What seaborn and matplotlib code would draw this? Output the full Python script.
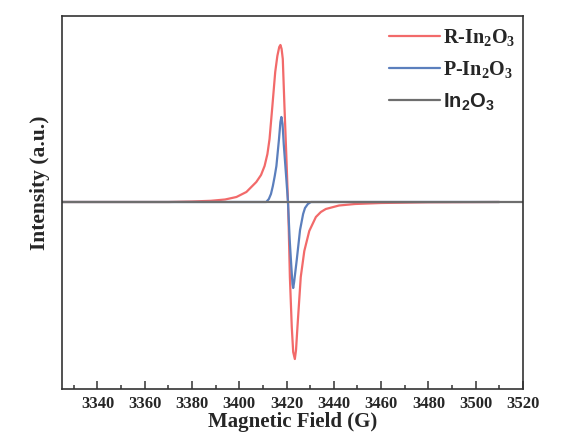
import matplotlib
matplotlib.use("Agg")
import matplotlib.pyplot as plt
import seaborn as sns
from matplotlib.ticker import MultipleLocator

# EPR spectra (field in G, intensity in a.u.)
r_field = [3325, 3370, 3380, 3388, 3394, 3398.8, 3403.0, 3407.2, 3409.2,
           3410.7, 3411.9, 3412.8, 3414.0, 3415.2, 3416.1, 3416.9, 3417.4,
           3417.9, 3418.4, 3419.1, 3419.9, 3420.6, 3420.9, 3421.4, 3422.2,
           3422.8, 3423.5, 3424.0, 3424.6, 3426.0, 3427.5, 3429.6, 3432.4,
           3434.5, 3436.6, 3442.2, 3449, 3460, 3480, 3510]
r_int = [0, 0, 0.5, 1.2, 2.5, 5, 10, 20, 27,
         36, 48, 63, 96, 130, 146, 155, 157,
         153, 143, 96, 46, 0, -25, -75, -125,
         -150, -157, -148, -125, -75, -49, -29, -15,
         -10, -7, -3.5, -2, -1, -0.3, 0]

p_field = [3325, 3411.4, 3412.5, 3413.4, 3414.2, 3415.0, 3415.7, 3416.8,
           3417.4, 3417.8, 3418.3, 3418.8, 3419.9, 3420.6, 3421.3, 3422.0,
           3422.5, 3422.8, 3423.2, 3424.3, 3425.7, 3427.0, 3427.8, 3429.0,
           3430.3, 3510]
p_int = [0, 0, 3, 8, 16, 26, 36, 63,
         80, 85, 78, 58, 23, 0, -37, -64,
         -82, -86, -80, -58, -28, -12, -6, -2,
         0, 0]

b_field = [3325, 3520]
b_int = [0, 0]

labels = ["R-In$_\\mathbf{2}$O$_\\mathbf{3}$",
          "P-In$_\\mathbf{2}$O$_\\mathbf{3}$",
          "In$_\\mathsf{2}$O$_\\mathsf{3}$"]
colors = ["#f26a6a", "#5b7fbd", "#6e6e6e"]

sns.set_style("ticks")
plt.rcParams["font.family"] = ["Liberation Serif", "DejaVu Serif"]
plt.rcParams["font.weight"] = "bold"
plt.rcParams["mathtext.fontset"] = "custom"
plt.rcParams["mathtext.rm"] = "Liberation Serif:bold"
plt.rcParams["mathtext.bf"] = "Liberation Serif:bold"
plt.rcParams["mathtext.sf"] = "Liberation Sans:bold"

fig = plt.figure(figsize=(5.66, 4.35), dpi=100)
ax = fig.add_axes([0.1095, 0.1034, 0.8145, 0.8576])

sns.lineplot(x=r_field, y=r_int, color=colors[0], lw=1.6, label=labels[0], ax=ax)
sns.lineplot(x=p_field, y=p_int, color=colors[1], lw=1.6, label=labels[1], ax=ax)
sns.lineplot(x=b_field, y=b_int, color=colors[2], lw=1.6, label=labels[2], ax=ax)

ax.set_xlim(3325, 3520)
ax.set_ylim(-187, 186)
ax.xaxis.set_major_locator(MultipleLocator(20))
ax.xaxis.set_minor_locator(MultipleLocator(10))
ax.set_yticks([])
ax.tick_params(axis="x", which="major", direction="in", length=6, width=1.1,
               labelsize=12, pad=4, color="#333333")
ax.tick_params(axis="x", which="minor", direction="in", length=3, width=1.1,
               color="#333333")
for lab in ax.get_xticklabels():
    lab.set_fontweight("bold")
for sp in ax.spines.values():
    sp.set_linewidth(1.2)
    sp.set_color("#333333")

ax.set_xlabel("Magnetic Field (G)", fontsize=15, fontweight="bold", labelpad=0)
ax.set_ylabel("Intensity (a.u.)", fontsize=15.5, fontweight="bold")
ax.yaxis.set_label_coords(-0.026, 0.555)

leg = ax.legend(loc="upper right", bbox_to_anchor=(1.007, 1.0), frameon=False,
                fontsize=14.5, handlelength=2.5, handletextpad=0.15,
                labelspacing=0.52, borderaxespad=0.25, borderpad=0.3)
texts = leg.get_texts()
texts[2].set_family("Liberation Sans")

fig.savefig("out.png", dpi=100)
